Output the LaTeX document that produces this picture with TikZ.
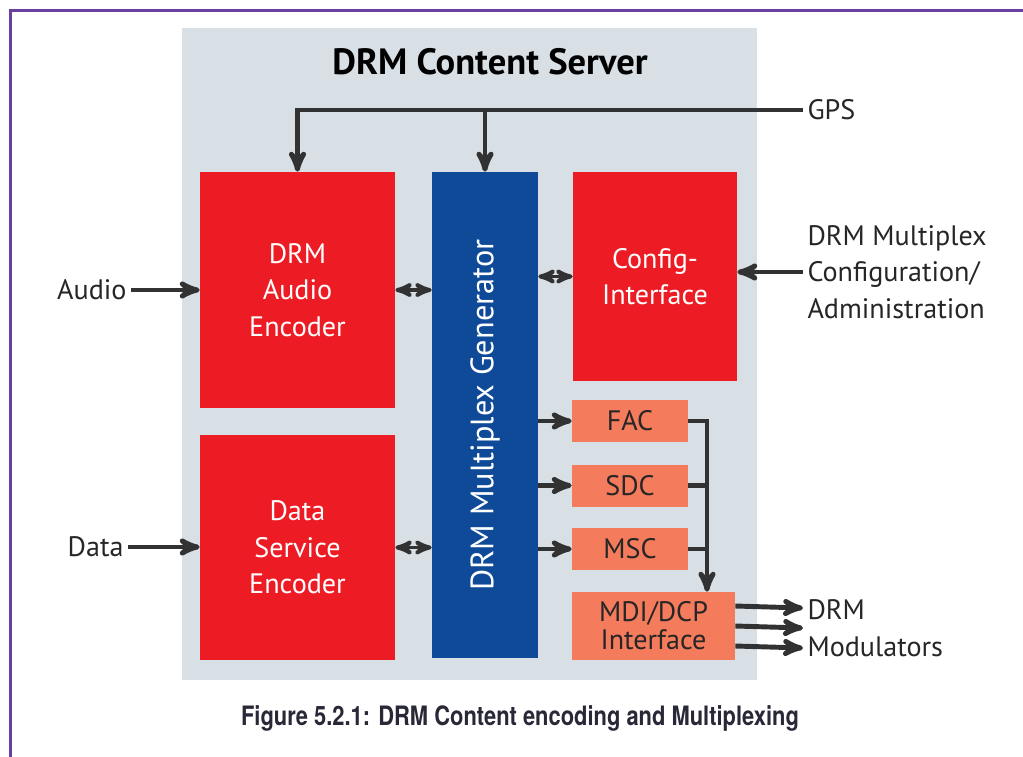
\documentclass[tikz,border=0pt]{standalone}
\usepackage{fontspec}
\setmainfont{PT Sans}
\newfontfamily\capfont[FakeStretch=0.82]{TeX Gyre Heros}
\usetikzlibrary{arrows,calc}
\definecolor{srvgray}{RGB}{216,224,230}
\definecolor{drmred}{RGB}{237,28,36}
\definecolor{drmblue}{RGB}{14,74,152}
\definecolor{drmsalmon}{RGB}{244,123,91}
\definecolor{drmdark}{RGB}{50,50,50}
\definecolor{drmpurple}{RGB}{107,63,160}
\definecolor{captext}{RGB}{40,40,55}
\tikzset{
    redbox/.style = {rectangle,
                    fill=drmred,
                    text=white,
                    inner sep=0pt,
                    align=center,
                    font=\fontsize{20}{26}\selectfont},
    muxbox/.style = {rectangle,
                    fill=drmblue,
                    text=white,
                    inner sep=0pt,
                    font=\fontsize{23}{26}\selectfont},
    subbox/.style = {rectangle,
                    fill=drmsalmon,
                    text=black!85,
                    inner sep=0pt,
                    align=center,
                    font=\fontsize{20}{26}\selectfont},
    lbl/.style =    {text=black!85,
                    inner sep=3pt,
                    align=left,
                    font=\fontsize{20}{26}\selectfont},
    -,
    link/.style =   {draw=drmdark,
                    line width=3.5pt},
    dlink/.style =  {draw=drmdark,
                    line width=2.8pt},
    >=stealth'}
\begin{document}
\begin{tikzpicture}[x=0.025cm,y=-0.025cm]
    \useasboundingbox (0,0) rectangle (1023,756);
    % frame and server area
    \draw[drmpurple, line width=2.2pt] (10.5,800) -- (10.5,10.5) -- (1100,10.5);
    \fill[srvgray] (182,28) rectangle (757,680);
    \node (title) at (490,62) {\fontsize{26}{28}\selectfont\bfseries DRM Content Server};

    % blocks
    \node[redbox, minimum width=4.875cm, minimum height=5.9cm]   (aenc) at (297.5,290)   {DRM\\Audio\\Encoder};
    \node[redbox, minimum width=4.875cm, minimum height=5.625cm] (denc) at (297.5,547.5) {Data\\Service\\Encoder};
    \node[muxbox, minimum width=2.65cm,  minimum height=12.15cm] (mux)  at (485,415)     {\rotatebox{90}{DRM Multiplex Generator}};
    \node[redbox, minimum width=4.1cm,   minimum height=5.225cm] (cfg)  at (655,276.5)   {Config-\\Interface};
    \node[subbox, minimum width=2.9cm,   minimum height=1.05cm]  (fac)  at (630,421)     {FAC};
    \node[subbox, minimum width=2.9cm,   minimum height=1.05cm]  (sdc)  at (630,485.5)   {SDC};
    \node[subbox, minimum width=2.9cm,   minimum height=1.05cm]  (msc)  at (630,549)     {MSC};
    \node[subbox, minimum width=4.075cm, minimum height=1.7cm,
          font=\fontsize{20}{20}\selectfont]                      (mdi)  at (653.5,626)   {MDI/DCP\\Interface};

    % outside labels
    \node[lbl, anchor=east] (audio) at (131,290) {Audio};
    \node[lbl, anchor=east] (data)  at (128,547) {Data};
    \node[lbl, anchor=west] (gps)   at (803,110) {GPS};
    \node[lbl, anchor=west] (cfgin) at (803,272) {DRM Multiplex\\Configuration/\\Administration};
    \node[lbl, anchor=west] (mods)  at (803,628) {DRM\\Modulators};
    \node[text=captext] (cap) at (520,718) {\capfont\fontsize{19}{21}\selectfont\bfseries Figure 5.2.1: DRM Content encoding and Multiplexing};

    % connections
    \coordinate (bus) at (707,421);
    \draw[link,->] (gps.west) -| (aenc.north);
    \draw[link,->] (mux.north |- gps.west) -- (mux.north);
    \draw[link,->] (audio.east) -- (aenc.west |- audio.east);
    \draw[link,->] (data.east) -- (denc.west |- data.east);
    \draw[link,->] (cfgin.west) -- (cfg.east |- cfgin.west);
    \path [dlink]   (aenc) edge [<->] (mux.west |- aenc)
                    (denc) edge [<->] (mux.west |- denc)
                    (cfg)  edge [<->] (mux.east |- cfg);
    \draw[link,->] (mux.east |- fac) -- (fac);
    \draw[link,->] (mux.east |- sdc) -- (sdc);
    \draw[link,->] (mux.east |- msc) -- (msc);
    \draw[link,->] (fac) -| (mdi.north -| bus);
    \draw[link] (sdc) -- (sdc -| bus);
    \draw[link] (msc) -- (msc -| bus);
    \foreach \dy in {-20,0,20}
        \draw[link,->] ($(mdi.east)+(0,\dy)$) -- ($(mods.west)+(0,\dy)$);
\end{tikzpicture}
\end{document}
